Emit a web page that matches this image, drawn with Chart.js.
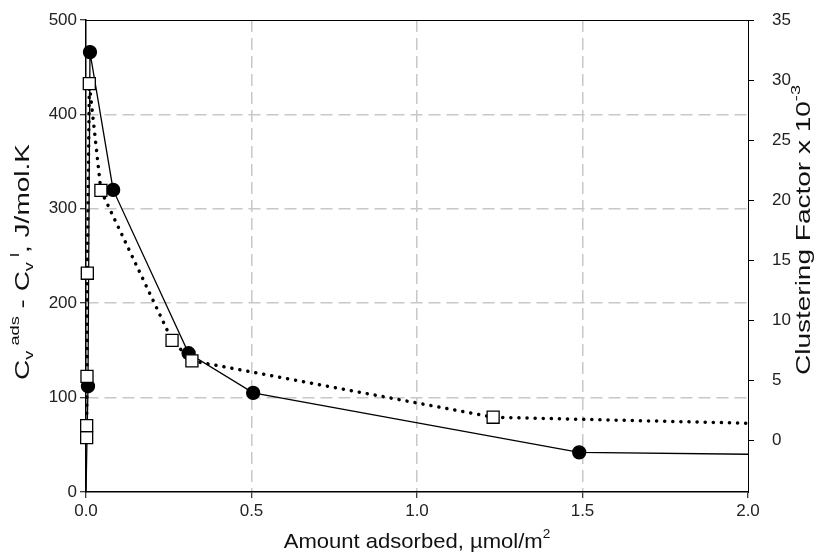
<!DOCTYPE html>
<html>
<head>
<meta charset="utf-8">
<script src="https://cdn.jsdelivr.net/npm/chart.js@4"></script>
<style>
  html, body { margin: 0; padding: 0; background: #fff; }
  #wrap { width: 818px; height: 553px; }
</style>
</head>
<body>
<div id="wrap"><canvas id="chart" width="818" height="553"></canvas></div>
<script>
// heat capacity difference (left axis), filled circles
const cvAmount = [0, 0.006, 0.012, 0.082, 0.31, 0.505, 1.49, 2.0];
const cvValues = [0, 112, 466, 320, 147, 105, 42, 40];
const cvMarked = [false, true, true, true, true, true, true, false];

// clustering factor x 10^-3 (right axis), open squares
const cfAmount = [0.002, 0.002, 0.003, 0.004, 0.01, 0.045, 0.26, 0.32, 1.23, 2.0];
const cfValues = [0.2, 1.2, 5.3, 13.9, 29.7, 20.8, 8.3, 6.6, 1.9, 1.4];
const cfMarked = [true, true, true, true, true, true, true, true, true, false];

const xTicks = [0, 0.5, 1.0, 1.5, 2.0];
const leftTicks = [0, 100, 200, 300, 400, 500];
const rightTicks = [0, 5, 10, 15, 20, 25, 30, 35];

const FONT = '"Liberation Sans", Arial, sans-serif';
const GRID = '#c8c8c8';

const toPoints = (xs, ys) => xs.map((x, i) => ({ x, y: ys[i] }));

// draws a title made of pieces with sub/superscripts, stretched along the text
function drawRich(ctx, parts, cx, cy, rotate, stretch) {
    ctx.save();
    ctx.translate(cx, cy);
    if (rotate) ctx.rotate(-Math.PI / 2);
    ctx.scale(stretch, 1);
    ctx.fillStyle = '#111';
    ctx.textBaseline = 'middle';
    let total = 0;
    parts.forEach(p => {
        ctx.font = p.size + 'px ' + FONT;
        p.w = ctx.measureText(p.t).width;
        total += p.w;
    });
    let x = -total / 2;
    parts.forEach(p => {
        ctx.font = p.size + 'px ' + FONT;
        ctx.fillText(p.t, x, p.dy || 0);
        x += p.w;
    });
    ctx.restore();
}

const titles = {
    id: 'titles',
    afterDraw(chart) {
        const { ctx, chartArea: a } = chart;
        // top frame line
        ctx.save();
        ctx.strokeStyle = '#000';
        ctx.lineWidth = 1;
        ctx.beginPath();
        ctx.moveTo(a.left, a.top + 0.5);
        ctx.lineTo(a.right, a.top + 0.5);
        ctx.stroke();
        ctx.restore();

        drawRich(ctx, [
            { t: 'Amount adsorbed, \u00b5mol/m', size: 21 },
            { t: '2', size: 13, dy: -8 }
        ], (a.left + a.right) / 2, 542, false, 1.05);

        drawRich(ctx, [
            { t: 'C', size: 20 },
            { t: 'v', size: 13, dy: 6 },
            { t: ' ads', size: 13, dy: -8 },
            { t: ' - C', size: 20 },
            { t: 'v', size: 13, dy: 6 },
            { t: ' l', size: 13, dy: -8 },
            { t: ', J/mol.K', size: 20 }
        ], 23, 262, true, 1.4);

        drawRich(ctx, [
            { t: 'Clustering Factor x 10', size: 20 },
            { t: '-3', size: 13, dy: -8 }
        ], 804, 230, true, 1.4);
    }
};

const tickFont = { family: FONT, size: 17 };

new Chart(document.getElementById('chart'), {
    type: 'scatter',
    data: {
        datasets: [
            {
                label: 'Squares',
                data: toPoints(cfAmount, cfValues),
                yAxisID: 'y1',
                showLine: true,
                clip: false,
                borderColor: '#000',
                borderWidth: 3.5,
                borderDash: [0.1, 8],
                borderCapStyle: 'round',
                pointStyle: 'rect',
                pointRadius: ctx => cfMarked[ctx.dataIndex] ? 8.5 : 0,
                pointBorderWidth: 1.3,
                pointBackgroundColor: '#fff',
                pointBorderColor: '#000',
                order: 1
            },
            {
                label: 'Circles',
                data: toPoints(cvAmount, cvValues),
                yAxisID: 'y',
                showLine: true,
                clip: false,
                borderColor: '#000',
                borderWidth: 1.3,
                pointStyle: 'circle',
                pointRadius: ctx => cvMarked[ctx.dataIndex] ? 6.5 : 0,
                pointBackgroundColor: '#000',
                pointBorderColor: '#000',
                order: 2
            }
        ]
    },
    options: {
        responsive: false,
        animation: false,
        events: [],
        layout: { padding: { top: 20, left: 0, right: 0, bottom: 0 } },
        plugins: { legend: { display: false }, tooltip: { enabled: false } },
        scales: {
            x: {
                type: 'linear',
                min: 0,
                max: 2,
                afterBuildTicks: s => { s.ticks = xTicks.map(v => ({ value: v })); },
                afterFit: s => { s.height = 61; },
                ticks: { font: tickFont, color: '#222', padding: 3, callback: v => v.toFixed(1) },
                grid: {
                    color: c => (c.tick && (c.tick.value === 0 || c.tick.value === 2)) ? 'rgba(0,0,0,0)' : GRID,
                    lineWidth: 1.5,
                    tickColor: '#000',
                    tickLength: 6,
                    tickWidth: 1
                },
                border: { color: '#000', width: 1.5, dash: [12, 6] }
            },
            y: {
                position: 'left',
                min: 0,
                max: 500,
                afterBuildTicks: s => { s.ticks = leftTicks.map(v => ({ value: v })); },
                afterFit: s => { s.width = 86; s.paddingTop = 0; s.paddingBottom = 0; },
                ticks: { font: tickFont, color: '#222', padding: 3 },
                grid: {
                    color: c => (c.tick && (c.tick.value === 0 || c.tick.value === 500)) ? 'rgba(0,0,0,0)' : GRID,
                    lineWidth: 1.5,
                    tickColor: '#000',
                    tickLength: 6,
                    tickWidth: 1
                },
                border: { color: '#000', width: 1.5, dash: [12, 6] }
            },
            y1: {
                position: 'right',
                min: -4.33,
                max: 35,
                afterBuildTicks: s => { s.ticks = rightTicks.map(v => ({ value: v })); },
                afterFit: s => { s.width = 70; s.paddingTop = 0; s.paddingBottom = 0; },
                ticks: { font: tickFont, color: '#222', padding: 18 },
                grid: { drawOnChartArea: false, tickColor: '#000', tickLength: 6, tickWidth: 1 },
                border: { color: '#000', width: 1 }
            }
        }
    },
    plugins: [titles]
});
</script>
</body>
</html>
